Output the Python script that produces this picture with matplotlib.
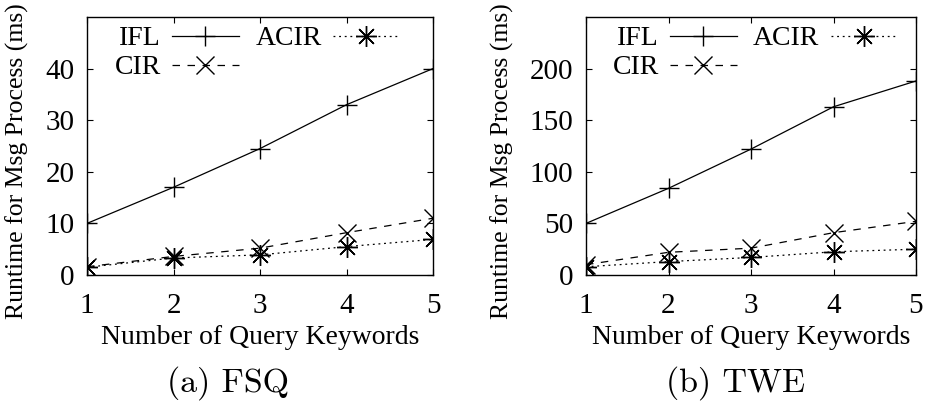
import matplotlib
matplotlib.use("Agg")
import matplotlib.pyplot as plt

plt.rcParams['font.family'] = ['Liberation Serif', 'DejaVu Serif']

keywords = [1, 2, 3, 4, 5]

fsq_ifl = [10, 17, 24.5, 33, 40]
fsq_cir = [1.6, 3.6, 5.2, 8.2, 11]
fsq_acir = [1.5, 3.3, 3.9, 5.5, 6.9]

twe_ifl = [50, 84, 122, 163, 188]
twe_cir = [10, 22, 26, 41, 52]
twe_acir = [8, 13, 17, 22.5, 25]

fsq_yticks = [0, 10, 20, 30, 40]
twe_yticks = [0, 50, 100, 150, 200]

FS = 20

fig = plt.figure(figsize=(9.34, 4.07), dpi=100)
ax1 = fig.add_axes([87 / 934, 132 / 407, 346 / 934, 258 / 407])
ax2 = fig.add_axes([586 / 934, 132 / 407, 330 / 934, 258 / 407])


def draw(ax, ifl, cir, acir, yticks, ymax):
    ax.plot(keywords, ifl, color='black', lw=0.9, marker='+', ms=14, mew=1.0, label='IFL')
    ax.plot(keywords, cir, color='black', lw=0.9, ls=(0, (6, 6)), marker='x', ms=13.5, mew=1.0,
            label='CIR')
    ax.plot(keywords, acir, color='black', lw=0.9, ls=(0, (1.5, 3)), marker=(8, 2, 0), ms=15,
            mew=1.0, label='ACIR')
    ax.set_xlim(1, 5)
    ax.set_ylim(0, ymax)
    ax.set_xticks(keywords)
    ax.set_yticks(yticks)
    ax.tick_params(direction='in', length=4.5, width=0.8, top=True, right=True,
                   labelsize=21)
    ax.tick_params(axis='x', pad=13)
    ax.tick_params(axis='y', pad=9)
    for s in ax.spines.values():
        s.set_linewidth(1.0)
    ax.set_xlabel('Number of Query Keywords', fontsize=FS, labelpad=4)
    leg = ax.legend(ncol=2, loc='upper left', bbox_to_anchor=(0.08, 0.965), frameon=False,
                    markerfirst=False, fontsize=FS, borderpad=0, borderaxespad=0,
                    handlelength=2.4, handletextpad=0.4, columnspacing=0.6,
                    labelspacing=0.12)
    return leg


draw(ax1, fsq_ifl, fsq_cir, fsq_acir, fsq_yticks, 50)
draw(ax2, twe_ifl, twe_cir, twe_acir, twe_yticks, 250)

fig.text(17 / 934, 1 - 161 / 407, 'Runtime for Msg Process (ms)', rotation=90,
         ha='center', va='center', fontsize=18.5)
fig.text(502 / 934, 1 - 161 / 407, 'Runtime for Msg Process (ms)', rotation=90,
         ha='center', va='center', fontsize=18.5)

fig.text(228 / 934, 1 - 383 / 407, '(a) FSQ', family='cmr10', fontsize=24.5,
         ha='center', va='center')
fig.text(736 / 934, 1 - 383 / 407, '(b) TWE', family='cmr10', fontsize=24.5,
         ha='center', va='center')

fig.savefig('out.png', dpi=100)
